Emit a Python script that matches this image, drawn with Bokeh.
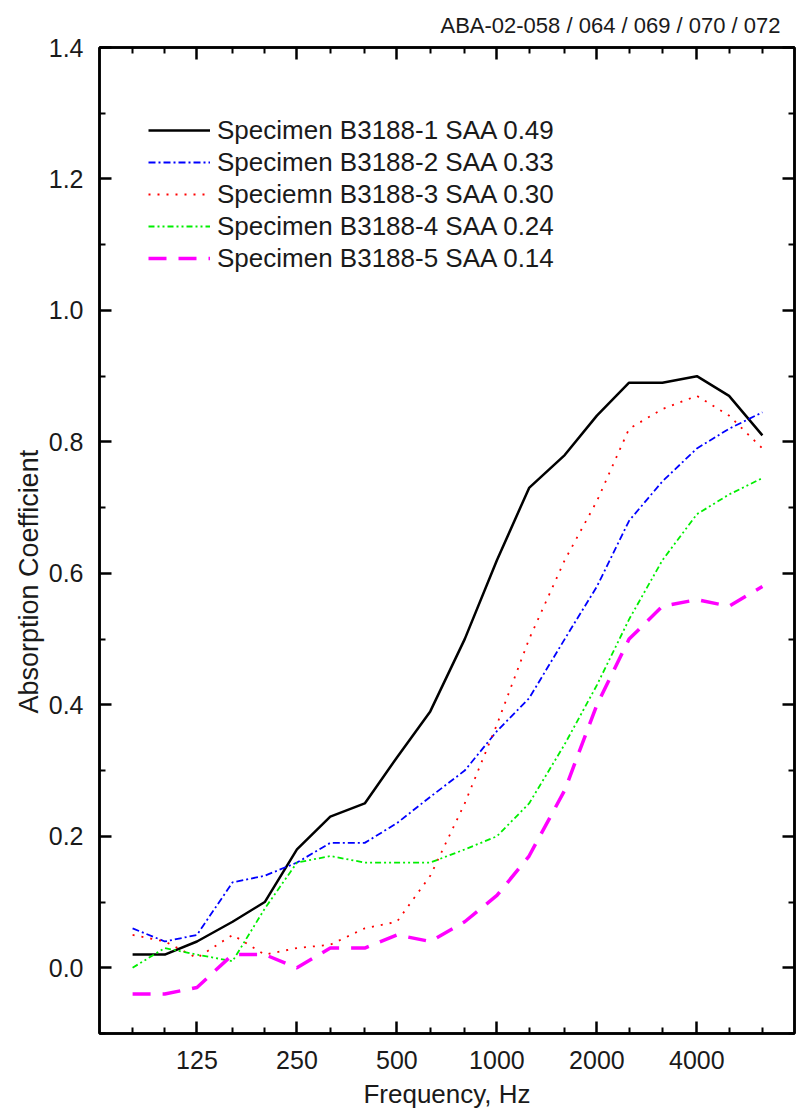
from bokeh.plotting import figure
from bokeh.models import (FixedTicker, LogAxis, LinearAxis, Legend, LegendItem,
                          Range1d, Title, PrintfTickFormatter)
from bokeh.embed import file_html
from bokeh.resources import INLINE

# ---- data -------------------------------------------------------------
freqs = [80, 100, 125, 160, 200, 250, 315, 400, 500, 630, 800, 1000,
         1250, 1600, 2000, 2500, 3150, 4000, 5000, 6300]
spec1 = [0.02, 0.02, 0.04, 0.07, 0.10, 0.18, 0.23, 0.25, 0.32, 0.39, 0.50,
         0.62, 0.73, 0.78, 0.84, 0.89, 0.89, 0.90, 0.87, 0.81]
spec2 = [0.06, 0.04, 0.05, 0.13, 0.14, 0.16, 0.19, 0.19, 0.22, 0.26, 0.30,
         0.36, 0.41, 0.50, 0.58, 0.68, 0.74, 0.79, 0.82, 0.845]
spec3 = [0.05, 0.04, 0.015, 0.05, 0.02, 0.03, 0.035, 0.06, 0.07, 0.14, 0.25,
         0.37, 0.50, 0.62, 0.71, 0.82, 0.85, 0.87, 0.84, 0.79]
spec4 = [0.0, 0.03, 0.02, 0.01, 0.09, 0.16, 0.17, 0.16, 0.16, 0.16, 0.18,
         0.20, 0.25, 0.34, 0.43, 0.53, 0.62, 0.69, 0.72, 0.745]
spec5 = [-0.04, -0.04, -0.03, 0.02, 0.02, 0.0, 0.03, 0.03, 0.05, 0.04, 0.07,
         0.11, 0.17, 0.27, 0.40, 0.50, 0.55, 0.56, 0.55, 0.58]

series_labels = ["Specimen B3188-1 SAA 0.49", "Specimen B3188-2 SAA 0.33",
                 "Speciemn B3188-3 SAA 0.30", "Specimen B3188-4 SAA 0.24",
                 "Specimen B3188-5 SAA 0.14"]

x_major = [125, 250, 500, 1000, 2000, 4000]
x_major_labels = ["125", "250", "500", "1000", "2000", "4000"]
x_minor = [80, 100, 160, 200, 315, 400, 630, 800, 1250, 1600, 2500, 3150, 5000, 6300]
y_major = [0.0, 0.2, 0.4, 0.6, 0.8, 1.0, 1.2, 1.4]
y_minor = [-0.1, 0.1, 0.3, 0.5, 0.7, 0.9, 1.1, 1.3]

header = "ABA-02-058 / 064 / 069 / 070 / 072"
x_title = "Frequency, Hz"
y_title = "Absorption Coefficient"

# ---- figure -----------------------------------------------------------
FONT = "Liberation Sans"
TXT = "#1a1a1a"

p = figure(width=798, height=1115, x_axis_type="log",
           x_range=Range1d(63.6, 7870), y_range=Range1d(-0.1, 1.4),
           output_backend="svg", toolbar_location=None,
           min_border_left=99, min_border_right=4,
           min_border_top=47, min_border_bottom=82)
p.xgrid.visible = False
p.ygrid.visible = False
p.outline_line_color = "black"
p.outline_line_width = 2.5
p.background_fill_color = "white"
p.border_fill_color = "white"


def style_axis(ax, show_labels):
    ax.axis_line_width = 2.5
    ax.axis_line_color = "black"
    ax.major_tick_in = 12
    ax.major_tick_out = 0
    ax.minor_tick_in = 6
    ax.minor_tick_out = 0
    ax.major_tick_line_width = 2.5
    ax.minor_tick_line_width = 2
    ax.major_tick_line_color = "black"
    ax.minor_tick_line_color = "black"
    ax.major_label_text_font = FONT
    if show_labels:
        ax.major_label_text_color = TXT
        ax.major_label_text_font_size = "25px"
    else:
        ax.major_label_text_color = None
        ax.major_label_text_font_size = "1px"
        ax.major_label_standoff = 0


xt = FixedTicker(ticks=x_major, minor_ticks=x_minor)
yt = FixedTicker(ticks=y_major, minor_ticks=y_minor)

xa = p.xaxis[0]
xa.ticker = xt
xa.major_label_overrides = {f: l for f, l in zip(x_major, x_major_labels)}
style_axis(xa, True)
xa.major_label_standoff = 17
xa.axis_label = x_title
xa.axis_label_text_font = FONT
xa.axis_label_text_font_size = "26px"
xa.axis_label_text_font_style = "normal"
xa.axis_label_text_color = TXT
xa.axis_label_standoff = 7

ya = p.yaxis[0]
ya.ticker = yt
ya.formatter = PrintfTickFormatter(format="%.1f")
style_axis(ya, True)
ya.major_label_standoff = 16

# y-axis title as a left-side title, anchored a little above the frame
# bottom (in the reference it sits below the axis centre)
p.add_layout(Title(text=y_title, align="left", offset=320,
                   text_font=FONT, text_font_size="27px",
                   text_font_style="normal", text_color=TXT,
                   standoff=4), "left")

top = LogAxis(ticker=FixedTicker(ticks=x_major, minor_ticks=x_minor))
style_axis(top, False)
p.add_layout(top, "above")
right = LinearAxis(ticker=FixedTicker(ticks=y_major, minor_ticks=y_minor))
style_axis(right, False)
p.add_layout(right, "right")

p.add_layout(Title(text=header, align="right", text_font=FONT,
                   text_font_size="22px", text_font_style="normal",
                   text_color=TXT, standoff=20, offset=14), "above")

# ---- lines ------------------------------------------------------------
r1 = p.line(freqs, spec1, line_color="black", line_width=2.5)
r2 = p.line(freqs, spec2, line_color="#0000ff", line_width=1.8, line_dash="7 3 2 3")
r3 = p.line(freqs, spec3, line_color="#ff0000", line_width=1.8, line_dash="2 7")
r4 = p.line(freqs, spec4, line_color="#00ee00", line_width=1.8, line_dash="6 3 2 3 2 3")
r5 = p.line(freqs, spec5, line_color="#ff00ff", line_width=3.5, line_dash="18 12")

legend = Legend(items=[LegendItem(label=l, renderers=[r]) for l, r in
                       zip(series_labels, [r1, r2, r3, r4, r5])],
                location=(49, 759), label_text_font=FONT,
                label_text_font_size="26px", label_text_color=TXT,
                glyph_width=62, glyph_height=32, label_height=32,
                label_standoff=7, spacing=0, padding=0, margin=0,
                border_line_color=None, background_fill_alpha=0)
p.add_layout(legend)

open("out.html", "w").write(file_html(p, INLINE))
